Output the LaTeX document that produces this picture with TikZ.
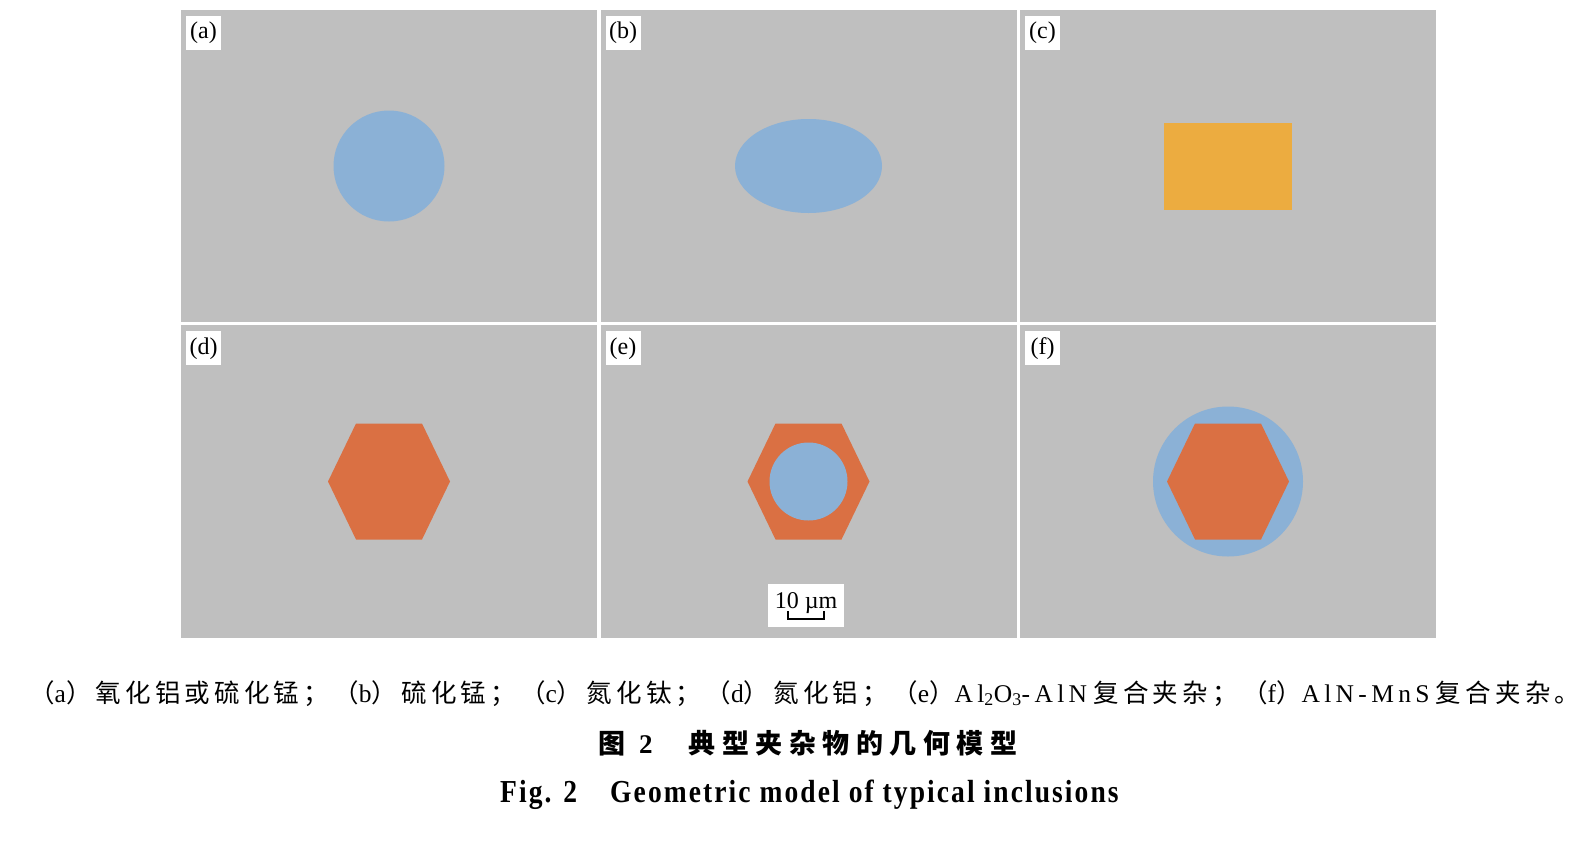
\documentclass[tikz,border=0pt]{standalone}
\usepackage{fontspec}
\setmainfont{Liberation Serif}
\newfontfamily\cjkfont[LetterSpace=16.5]{Noto Sans CJK SC}
\newfontfamily\capfont[LetterSpace=17]{Liberation Serif}
\newfontfamily\titlecjk[LetterSpace=24]{Noto Sans CJK SC}
\newfontfamily\titleeng[LetterSpace=6.5,FakeStretch=0.86]{Liberation Serif}
\usetikzlibrary{shapes.geometric,calc}
\definecolor{matgray}{RGB}{191,191,191}
\definecolor{oxblue}{RGB}{139,177,214}
\definecolor{tingold}{RGB}{236,172,64}
\definecolor{alnred}{RGB}{218,112,67}
\newcommand{\zh}[1]{{\cjkfont #1}}
\newcommand{\la}[1]{{\capfont #1}}

\begin{document}
\begin{tikzpicture}[x=1pt,y=-1pt,
    panel/.style={fill=matgray, inner sep=0pt, minimum width=416pt, minimum height=312.5pt},
    tag/.style={fill=white, anchor=north west, inner sep=0pt, minimum width=35pt, minimum height=34pt, font=\fontsize{24}{24}\selectfont},
    roundincl/.style={circle, fill=oxblue, inner sep=0pt},
    hexincl/.style={fill=alnred},
    caption/.style={anchor=base west, inner sep=0pt},
]
    % page
    \fill[white] (0,0) rectangle (1595,841);
    \useasboundingbox (0,0) rectangle (1595,841);

    % Panels
    \node[panel] (pa) at (389,166) {};
    \node[panel] (pb) at (808.5,166) {};
    \node[panel] (pc) at (1228,166) {};
    \node[panel] (pd) at (389,481.5) {};
    \node[panel] (pe) at (808.5,481.5) {};
    \node[panel] (pf) at (1228,481.5) {};

    % Tags
    \node[tag] (ta) at ($(pa.north west)+(5,6)$) {(a)};
    \node[tag] (tb) at ($(pb.north west)+(5,6)$) {(b)};
    \node[tag] (tc) at ($(pc.north west)+(5,6)$) {(c)};
    \node[tag] (td) at ($(pd.north west)+(5,6)$) {(d)};
    \node[tag] (te) at ($(pe.north west)+(5,6)$) {(e)};
    \node[tag] (tf) at ($(pf.north west)+(5,6)$) {(f)};

    % Inclusions
    \node[roundincl, minimum size=111pt] (ia) at (pa.center) {};
    \node[ellipse, fill=oxblue, inner sep=0pt, minimum width=147pt, minimum height=94pt] (ib) at (pb.center) {};
    \node[fill=tingold, inner sep=0pt, minimum width=128pt, minimum height=87pt] (ic) at (pc.center) {};
    \fill[hexincl, shift={(pd.center)}] (-61,0) -- (-33,-58) -- (33,-58) -- (61,0) -- (33,58) -- (-33,58) -- cycle;
    \fill[hexincl, shift={(pe.center)}] (-61,0) -- (-33,-58) -- (33,-58) -- (61,0) -- (33,58) -- (-33,58) -- cycle;
    \node[roundincl, minimum size=78pt] (ie) at (pe.center) {};
    \node[roundincl, minimum size=150pt] (if) at (pf.center) {};
    \fill[hexincl, shift={(pf.center)}] (-61,0) -- (-33,-58) -- (33,-58) -- (61,0) -- (33,58) -- (-33,58) -- cycle;

    % Scale bar
    \node[fill=white, inner sep=0pt, minimum width=76pt, minimum height=43pt] (sb) at (806,605.5) {};
    \node[anchor=base, inner sep=0pt, font=\fontsize{24}{24}\selectfont] (sbtext) at (806,608) {10 µm};
    \draw[line width=1.8pt] ($(sb.center)+(-18,5.5)$) -- ($(sb.center)+(-18,13.5)$) -- ($(sb.center)+(18,13.5)$) -- ($(sb.center)+(18,5.5)$);

    % Captions
    \node[caption, font=\fontsize{25.5}{30}\selectfont] (cap1) at (29,702)
        {\zh{（}\la{a}\zh{）氧化铝或硫化锰；（}\la{b}\zh{）硫化锰；（}\la{c}\zh{）氮化钛；（}\la{d}\zh{）氮化铝；（}\la{e}\zh{）}\la{Al\textsubscript{2}O\textsubscript{3}-AlN} \zh{复合夹杂；（}\la{f}\zh{）}\la{AlN-MnS} \zh{复合夹杂。}};
    \node[caption, font=\fontsize{27}{30}\selectfont\bfseries] (cap2) at (598,753)
        {{\titlecjk 图}\hspace{14pt}2\hspace{36pt}{\titlecjk 典型夹杂物的几何模型}};
    \node[caption, font=\fontsize{32}{36}\selectfont\bfseries\titleeng] (cap3) at (500,802)
        {Fig. 2\hspace{33pt}Geometric model of typical inclusions};
\end{tikzpicture}
\end{document}
